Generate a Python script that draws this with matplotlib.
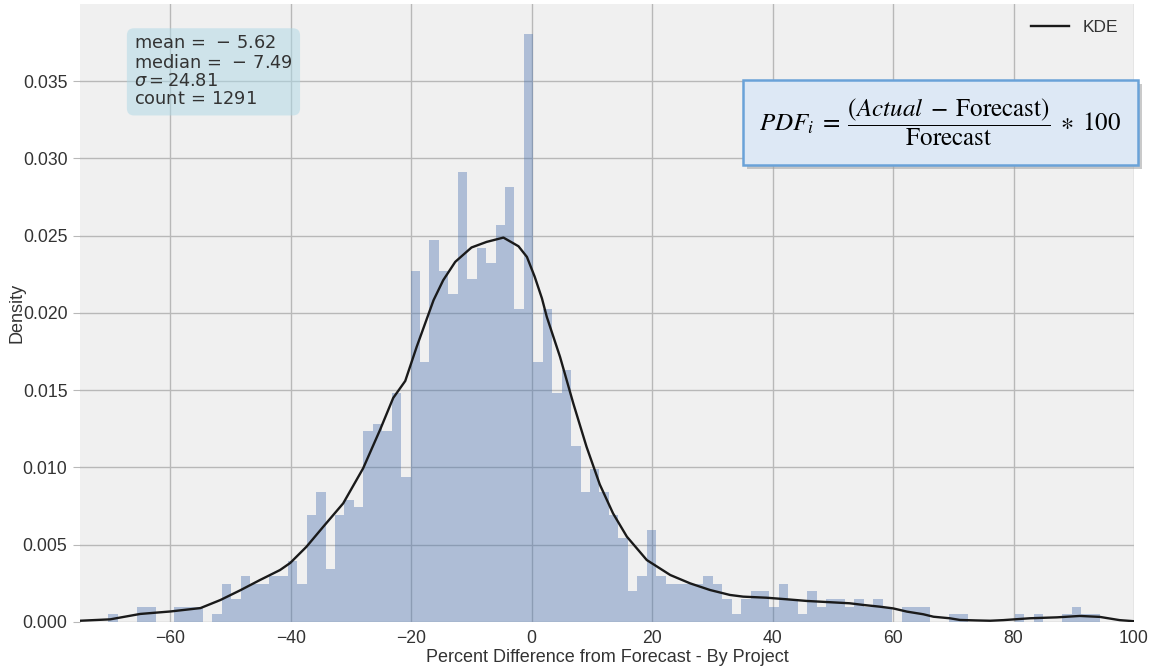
import numpy as np
import matplotlib
matplotlib.use("Agg")
import matplotlib.pyplot as plt
from matplotlib.patches import Rectangle

# histogram: counts per bin
bin_start = -70.3
bin_width = 1.568
counts = [1, 0, 0, 2, 2, 0, 0, 2, 2, 2,
          0, 1, 5, 3, 6, 5, 5, 6, 6, 8,
          5, 14, 17, 7, 14, 16, 15, 25, 26, 25,
          30, 19, 46, 34, 50, 46, 43, 59, 45, 49,
          47, 52, 57, 41, 77, 34, 41, 30, 33, 23,
          17, 20, 17, 14, 11, 4, 6, 12, 6, 5,
          5, 5, 5, 6, 5, 3, 1, 3, 4, 4,
          2, 5, 3, 1, 4, 2, 3, 3, 2, 3,
          2, 3, 2, 0, 2, 2, 2, 0, 0, 1,
          1, 0, 0, 0, 0, 0, 1, 0, 1, 0,
          0, 1, 2, 1, 1]
n_total = 1291

# kde curve
kde_x = [-75.0, -70.0, -65.0, -60.0, -55.0, -51.7, -48.4, -45.1, -41.8, -40.1,
         -37.4, -34.6, -31.3, -28.0, -25.2, -23.0, -21.0, -19.1, -16.3, -14.7,
         -12.7, -10.0, -7.5, -4.7, -2.2, -0.8, 0.5, 1.7, 2.5, 4.7,
         6.9, 9.1, 11.3, 13.5, 15.8, 19.1, 23.0, 26.3, 29.6, 32.9,
         35.1, 39.0, 42.3, 45.7, 49.5, 52.8, 55.1, 57.8, 60.0, 62.3,
         65.0, 66.7, 69.4, 71.1, 73.9, 76.1, 78.3, 82.7, 87.2, 91.0,
         94.3, 97.6, 100.0]
kde_y = [0.00008, 0.00017, 0.00052, 0.00068, 0.00090, 0.00142, 0.00205, 0.00272, 0.00336, 0.00382,
         0.00487, 0.00617, 0.00768, 0.00994, 0.01242, 0.01450, 0.01560, 0.01781, 0.02083, 0.02212,
         0.02331, 0.02424, 0.02460, 0.02488, 0.02432, 0.02363, 0.02234, 0.02094, 0.01975, 0.01716,
         0.01415, 0.01134, 0.00890, 0.00703, 0.00552, 0.00401, 0.00304, 0.00250, 0.00207, 0.00175,
         0.00164, 0.00157, 0.00147, 0.00136, 0.00128, 0.00121, 0.00110, 0.00099, 0.00088, 0.00067,
         0.00050, 0.00034, 0.00024, 0.00013, 0.00010, 0.00008, 0.00012, 0.00024, 0.00030, 0.00039,
         0.00033, 0.00012, 0.00005]

mean_val = -5.62
median_val = -7.49
sigma_val = 24.81

x_ticks = [-60, -40, -20, 0, 20, 40, 60, 80, 100]
y_ticks = [0.000, 0.005, 0.010, 0.015, 0.020, 0.025, 0.030, 0.035]

plt.rcParams['font.family'] = ['Liberation Sans', 'DejaVu Sans']
text_col = '#333333'

fig = plt.figure(figsize=(11.56, 6.67), dpi=100)
ax = fig.add_axes([0.0692, 0.0675, 0.9118, 0.9265])
ax.set_facecolor('#f0f0f0')
for s in ax.spines.values():
    s.set_visible(False)

edges = bin_start + bin_width * np.arange(len(counts) + 1)
density = np.array(counts) / (n_total * bin_width)
ax.stairs(density, edges, fill=True, color='#4c72b0', alpha=0.4, linewidth=0)
ax.plot(kde_x, kde_y, color='#1a1a1a', lw=1.7, label='KDE')

ax.set_xlim(-75, 100)
ax.set_ylim(0, 0.04)
ax.set_xticks(x_ticks)
ax.set_xticklabels([str(t).replace('-', '\u2212') for t in x_ticks])
ax.set_yticks(y_ticks)
ax.set_yticklabels(['%.3f' % t for t in y_ticks])
ax.tick_params(axis='x', length=0, labelsize=12.7, colors=text_col, pad=6)
ax.tick_params(axis='y', length=5, color='#b8b8b8', labelsize=12.7, labelcolor=text_col, pad=4)
ax.grid(True, color='#b8b8b8', lw=1)
ax.set_axisbelow(True)

ax.set_xlabel('Percent Difference from Forecast - By Project', fontsize=13, color=text_col, labelpad=1)
ax.set_ylabel('Density', fontsize=13, color=text_col)
ax.yaxis.set_label_coords(-0.0515, 0.5)

leg = ax.legend(loc='upper right', frameon=False, fontsize=12.5, handlelength=2.2)
for t in leg.get_texts():
    t.set_color(text_col)

# stats box
def signed(v):
    return (r'\,-\,%.2f' % abs(v)) if v < 0 else ('%.2f' % v)

textstr = '\n'.join([r'$\mathrm{mean}\,=%s$' % signed(mean_val),
                     r'$\mathrm{median}\,=%s$' % signed(median_val),
                     r'$\sigma=%.2f$' % sigma_val,
                     r'$\mathrm{count}\,=\,%d$' % n_total])
fig.text(0.1159, 0.947, textstr, fontsize=12.8, va='top', ha='left', color=text_col,
         math_fontfamily='dejavusans', linespacing=1.1,
         bbox=dict(boxstyle='round,pad=0.4', facecolor='lightblue', alpha=0.5, edgecolor='none'))

# formula box with shadow
bx, by, bw, bh = 743 / 1156, 1 - 165 / 667, 395 / 1156, 85 / 667
fig.patches.append(Rectangle((bx + 4 / 1156, by - 4 / 667), bw, bh, transform=fig.transFigure,
                             facecolor='#a0a0a0', edgecolor='none', alpha=0.55, zorder=5))
fig.patches.append(Rectangle((bx, by), bw, bh, transform=fig.transFigure,
                             facecolor='#dde8f5', edgecolor='#6aa2d8', lw=1.8, zorder=6))
fig.text(bx + bw / 2, by + bh / 2,
         r'$PDF_i\;=\;\dfrac{(Actual\;-\;\mathrm{Forecast})}{\mathrm{Forecast}}\;\ast\;100$',
         fontsize=18, math_fontfamily='stix', ha='center', va='center', color='black', zorder=7)

fig.savefig('out.png', dpi=100)
